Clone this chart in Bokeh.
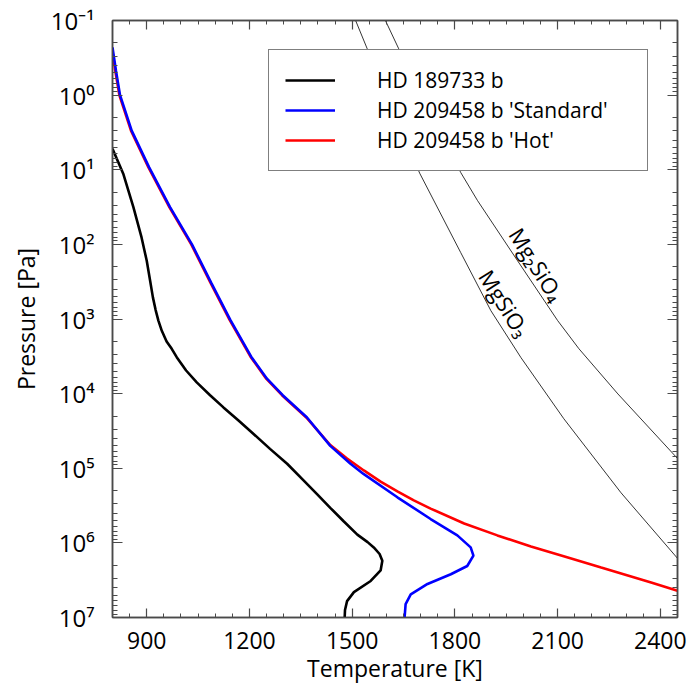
from bokeh.plotting import figure
from bokeh.models import (Range1d, LogAxis, LinearAxis, FixedTicker, Legend,
                          LegendItem, Label, CustomJSTickFormatter)
from bokeh.embed import file_html
from bokeh.resources import INLINE

FONT = "Open Sans"

# ---------------- data (temperature [K], pressure [Pa]) ----------------
hd189_T = [800, 832, 861, 885, 900, 910, 918, 926, 934, 944, 958, 973, 988,
           1015, 1046, 1085, 1124, 1168, 1212, 1260, 1310, 1355, 1398, 1436,
           1475, 1515, 1545, 1563, 1580, 1588, 1583, 1554, 1505, 1485, 1479,
           1478]
hd189_P = [5.25, 11.5, 31.6, 81.3, 166, 309, 513, 759, 1050, 1440, 2000, 2510,
           3270, 4900, 7080, 10500, 15300, 22900, 34700, 55000, 87100, 141000,
           224000, 339000, 513000, 776000, 977000, 1150000, 1410000, 1740000,
           2340000, 3240000, 4570000, 6030000, 7940000, 10000000]

std_T = [800, 810, 822, 856, 907, 968, 1032, 1088, 1144, 1205, 1251, 1297,
         1368, 1436, 1495, 1534, 1632, 1729, 1807, 1846, 1854, 1836,
         1788, 1720, 1671, 1656, 1653]
std_P = [0.229, 0.468, 1.0, 2.99, 9.3, 31.6, 100, 326, 1030, 3200, 6310, 10500,
         20900, 50100, 87100, 120000, 245000, 479000, 794000, 1150000,
         1480000, 2040000, 2630000, 3550000, 4900000, 6610000, 10000000]

hot_T = [798, 808, 820, 854, 905, 966, 1030, 1086, 1142, 1203, 1249, 1295,
         1366, 1436, 1485, 1534, 1583, 1632, 1680, 1729, 1827, 1924,
         2022, 2125, 2227, 2300, 2373, 2450]
hot_P = [0.229, 0.468, 1.0, 2.99, 9.3, 31.6, 100, 326, 1030, 3200, 6310, 10500,
         20900, 48900, 74100, 107000, 151000, 204000, 269000, 347000,
         550000, 794000, 1120000, 1550000, 2140000, 2690000, 3390000, 4370000]

mgsio3_T = [1510, 1544, 1697, 1817, 1905, 1993, 2118, 2285, 2451]
mgsio3_P = [0.1, 0.24, 11.1, 129, 774, 3300, 21700, 213000, 1630000]

mg2sio4_T = [1597, 1636, 1817, 1866, 1983, 2100, 2162, 2276, 2450]
mg2sio4_P = [0.1, 0.24, 10.9, 25.9, 166, 1050, 2500, 10100, 74000]

x_major = [900, 1200, 1500, 1800, 2100, 2400]
x_minor = list(range(800, 2451, 50))
y_major = [10.0 ** k for k in range(-1, 8)]
y_minor = [m * 10.0 ** k for k in range(-1, 7) for m in range(2, 10)]
y_labels = ["10⁻¹", "10⁰", "10¹", "10²", "10³", "10⁴", "10⁵", "10⁶", "10⁷"]

# ---------------- figure ----------------
p = figure(width=698, height=687,
           x_range=Range1d(800, 2450), y_range=Range1d(1e7, 1e-1),
           y_axis_type="log", output_backend="svg", toolbar_location=None,
           min_border_left=112, min_border_right=21, min_border_top=20,
           min_border_bottom=70)
p.xgrid.visible = False
p.ygrid.visible = False
p.outline_line_color = "#4a4a4a"
p.outline_line_width = 1.5
p.background_fill_color = "white"

blank = CustomJSTickFormatter(code="return ''")
p.add_layout(LogAxis(formatter=blank), "right")
p.add_layout(LinearAxis(formatter=blank), "above")

AX = "#4a4a4a"
for ax in p.below + p.above:
    ax.ticker = FixedTicker(ticks=x_major, minor_ticks=x_minor)
    ax.major_tick_in = 9
    ax.minor_tick_in = 4
for ax in p.left + p.right:
    ax.ticker = FixedTicker(ticks=y_major, minor_ticks=y_minor)
    ax.major_tick_in = 10
    ax.minor_tick_in = 5
for ax in p.below + p.above + p.left + p.right:
    ax.major_tick_out = 0
    ax.minor_tick_out = 0
    ax.axis_line_color = AX
    ax.axis_line_width = 1.5
    ax.major_tick_line_color = AX
    ax.minor_tick_line_color = AX
    ax.major_tick_line_width = 1.2
    ax.minor_tick_line_width = 1.0
    ax.major_label_text_font = FONT
    ax.major_label_text_font_size = "23px"
    ax.major_label_text_color = "black"
    ax.axis_label_text_font = FONT
    ax.axis_label_text_font_style = "normal"
    ax.axis_label_text_font_size = "23px"
    ax.axis_label_text_color = "black"

for ax in p.above + p.right:
    ax.major_label_standoff = 0

xa = p.below[0]
ya = p.left[0]
xa.axis_label = "Temperature [K]"
xa.major_label_standoff = 14
xa.axis_label_standoff = 0
ya.axis_label = "Pressure [Pa]"
ya.major_label_standoff = 18
ya.axis_label_standoff = 6
ya.major_label_text_font_size = "24px"
ya.major_label_overrides = {v: s for v, s in zip(y_major, y_labels)}

# condensation curves
p.line(mgsio3_T, mgsio3_P, line_color="black", line_width=0.8)
p.line(mg2sio4_T, mg2sio4_P, line_color="black", line_width=0.8)

r_hot = p.line(hot_T, hot_P, line_color="#ff0000", line_width=2.6)
r_std = p.line(std_T, std_P, line_color="#0000ff", line_width=2.6)
r_189 = p.line(hd189_T, hd189_P, line_color="black", line_width=2.6)

p.add_layout(Label(x=2040, y=185, text="Mg₂SiO₄", angle=-1.01,
                   text_align="center", text_baseline="middle",
                   text_font=FONT, text_font_size="22px", text_color="black"))
p.add_layout(Label(x=1946, y=610, text="MgSiO₃", angle=-1.01,
                   text_align="center", text_baseline="middle",
                   text_font=FONT, text_font_size="22px", text_color="black"))

legend = Legend(items=[LegendItem(label="HD 189733 b", renderers=[r_189]),
                       LegendItem(label="HD 209458 b 'Standard'", renderers=[r_std]),
                       LegendItem(label="HD 209458 b 'Hot'", renderers=[r_hot])],
                location=(156, 446), padding=16, spacing=2, margin=0,
                glyph_width=50, glyph_height=20, label_standoff=42,
                label_width=254, label_text_font=FONT,
                label_text_font_size="21px", label_text_color="black",
                border_line_color="black", border_line_width=1,
                background_fill_color="white", background_fill_alpha=1.0)
p.add_layout(legend)

open("out.html", "w").write(file_html(p, INLINE))
